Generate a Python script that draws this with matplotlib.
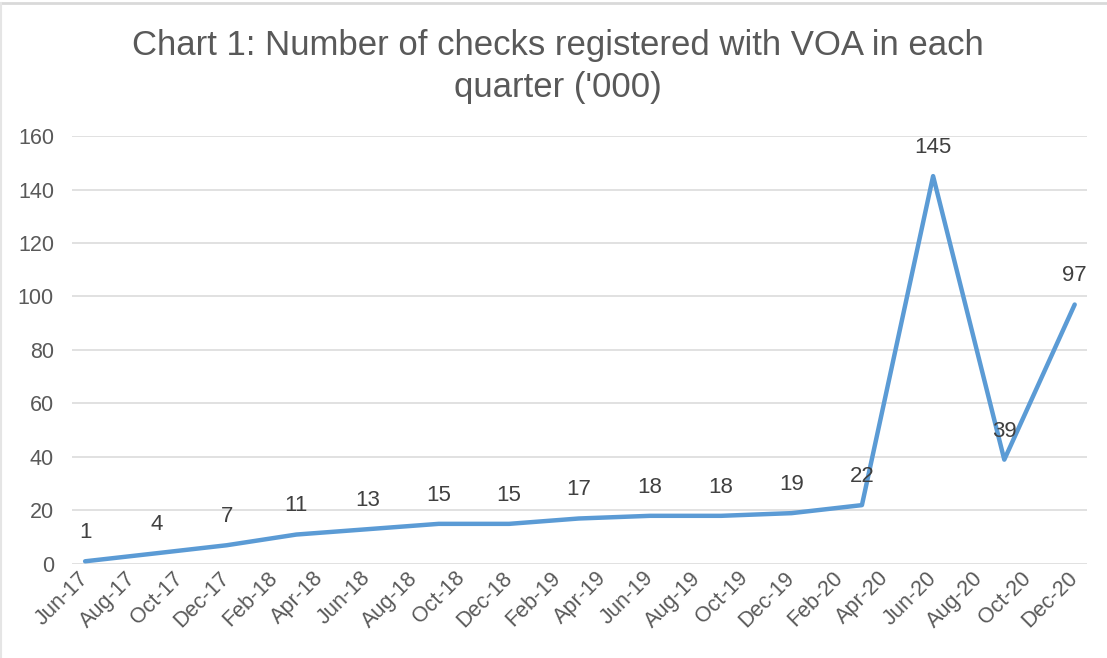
import matplotlib
matplotlib.use("Agg")
import matplotlib.pyplot as plt
import matplotlib.dates as mdates
import pandas as pd
from matplotlib.lines import Line2D

# quarterly checks registered ('000)
quarters = ["2017-06", "2017-09", "2017-12", "2018-03", "2018-06", "2018-09",
            "2018-12", "2019-03", "2019-06", "2019-09", "2019-12", "2020-03",
            "2020-06", "2020-09", "2020-12"]
checks = [1, 4, 7, 11, 13, 15, 15, 17, 18, 18, 19, 22, 145, 39, 97]

title = "Chart 1: Number of checks registered with VOA in each\nquarter ('000)"

plt.rcParams["font.family"] = ["Liberation Sans", "DejaVu Sans"]

dates = pd.to_datetime(quarters)
ticks = pd.date_range("2017-06-01", "2020-12-01", freq="2MS")

fig = plt.figure(figsize=(11.07, 6.58), dpi=100)
ax = fig.add_axes([0.065, 0.1429, 0.917, 0.6504])

ax.plot(dates, checks, color="#5B9BD5", lw=3.2, solid_joinstyle="round",
        solid_capstyle="round", zorder=3)

for d, v in zip(dates, checks):
    ax.annotate(str(v), (d, v), xytext=(0, 13), textcoords="offset points",
                ha="center", va="bottom", fontsize=16, color="#404040")

ax.set_ylim(0, 160)
ax.set_yticks(range(0, 161, 20))
ax.set_xlim(dates[0] - pd.Timedelta(days=17), dates[-1] + pd.Timedelta(days=16))
ax.set_xticks(ticks)
ax.xaxis.set_major_formatter(mdates.DateFormatter("%b-%y"))

ax.grid(axis="y", color="#D9D9D9", lw=1.1)
ax.set_axisbelow(True)
for s in ax.spines.values():
    s.set_visible(False)
ax.tick_params(axis="both", length=0, labelsize=15.5, labelcolor="#595959")
ax.tick_params(axis="y", pad=13)
ax.tick_params(axis="x", pad=8)
for lab in ax.get_xticklabels():
    lab.set_rotation(45)
    lab.set_ha("right")
    lab.set_va("center")
    lab.set_rotation_mode("anchor")

fig.text(0.504, 0.899, title, ha="center", va="center", fontsize=25,
         color="#595959", linespacing=1.32)

# thin frame on top and left edges
fig.add_artist(Line2D([0, 1], [0.995, 0.995], transform=fig.transFigure,
                      color="#D9D9D9", lw=2))
fig.add_artist(Line2D([0.001, 0.001], [0, 0.995], transform=fig.transFigure,
                      color="#E5E5E5", lw=1.5))

fig.savefig("out.png", dpi=100)
